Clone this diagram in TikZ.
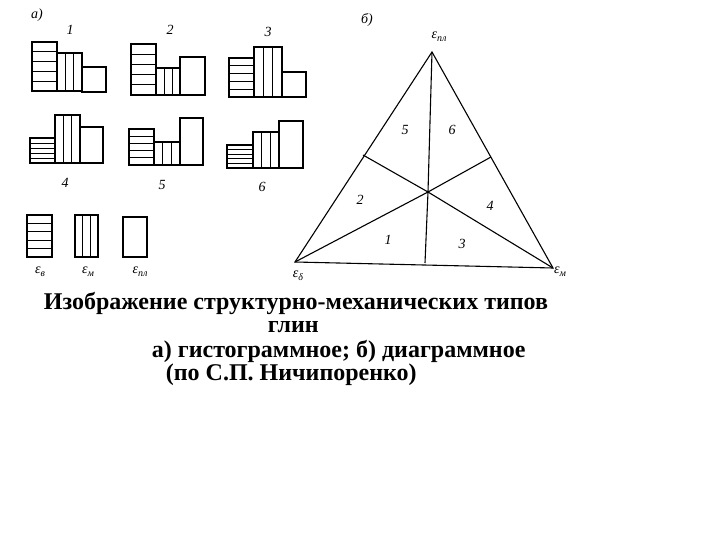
\documentclass[tikz,border=0pt]{standalone}
\usepackage{fontspec}
\setmainfont{Liberation Serif}
\newcommand\eps[1]{ε\raisebox{-3pt}{\fontsize{10}{10}\selectfont #1}}
\begin{document}
\begin{tikzpicture}[x=1pt,y=-1pt,line width=1.1pt,
 lab/.style={font=\itshape\fontsize{14}{14}\selectfont},
 captxt/.style={font=\bfseries\fontsize{24}{26}\selectfont,anchor=west}]
\useasboundingbox (0,0) rectangle (720,540);
\newcommand\hhbar[4]{\draw (#1,#3) rectangle (#2,#4);
 \foreach \k in {1,...,4}{\draw[line width=0.6pt] (#1,{#3+\k*(#4-#3)/5}) -- (#2,{#3+\k*(#4-#3)/5});}}
\newcommand\vvbar[4]{\draw (#1,#3) rectangle (#2,#4);
 \foreach \k in {1,2}{\draw[line width=0.6pt] ({#1+\k*(#2-#1)/3},#3) -- ({#1+\k*(#2-#1)/3},#4);}}
\newcommand\eebar[4]{\draw (#1,#3) rectangle (#2,#4);}
% row 1
\hhbar{32}{57}{42}{91}\vvbar{57}{82}{53}{91}\eebar{82}{106}{67}{92}
\hhbar{131}{156}{44}{95}\vvbar{156}{180}{68}{95}\eebar{180}{205}{57}{95}
\hhbar{229}{254}{58}{97}\vvbar{254}{282}{47}{97}\eebar{282}{306}{72}{97}
% row 2
\hhbar{30}{55}{138}{163}\vvbar{55}{80}{115}{163}\eebar{80}{103}{127}{163}
\hhbar{129}{154}{129}{165}\vvbar{154}{180}{142}{165}\eebar{180}{203}{118}{165}
\hhbar{227}{253}{145}{168}\vvbar{253}{279}{132}{168}\eebar{279}{303}{121}{168}
% legend
\hhbar{27}{52}{215}{257}\vvbar{75}{98}{215}{257}\eebar{123}{147}{217}{257}
\node[lab] (la) at (37,15) {а)};
\node[lab] at (70,30) {1};\node[lab] at (170,30) {2};\node[lab] at (268,32) {3};
\node[lab] at (65,183) {4};\node[lab] at (162,185) {5};\node[lab] at (262,187) {6};
\node[lab] at (40,272) {\eps{в}};
\node[lab] at (88,272) {\eps{м}};
\node[lab] at (140,272) {\eps{пл}};
% triangle
\coordinate (A) at (432,52); \coordinate (L) at (295,262); \coordinate (R) at (553,268);
\coordinate (C) at (428,192); \coordinate (B) at (425,263);
\coordinate (P) at (491,157); \coordinate (Q) at (363,155);
\draw (A) -- (L) -- (R) -- cycle;
\draw (A) -- (C) -- (B);
\draw (L) -- (C) -- (P);
\draw (R) -- (C) -- (Q);
\node[lab] at (367,20) {б)};
\node[lab] at (439,37) {\eps{пл}};
\node[lab] at (298,276) {\eps{δ}};
\node[lab] at (560,272) {\eps{м}};
\node[lab] at (405,130) {5};\node[lab] at (452,130) {6};
\node[lab] at (360,200) {2};\node[lab] at (490,206) {4};
\node[lab] at (388,240) {1};\node[lab] at (462,244) {3};
% caption
\node[captxt] at (40,303) {Изображение структурно-механических типов};
\node[captxt] at (264,327) {глин};
\node[captxt] at (148,351) {а) гистограммное; б) диаграммное};
\node[captxt] at (162,375) {(по С.П. Ничипоренко)};
\end{tikzpicture}
\end{document}
